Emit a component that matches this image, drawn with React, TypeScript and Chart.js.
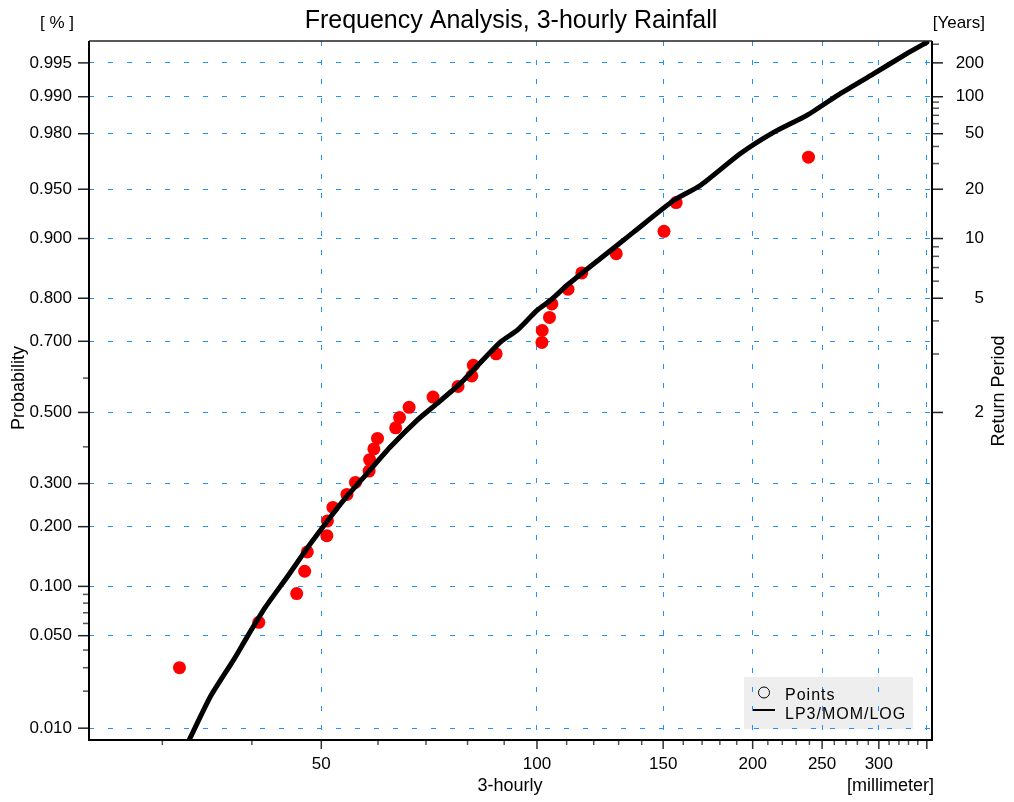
import React, { useEffect, useRef } from "react";
import { Chart, registerables } from "chart.js";

Chart.register(...registerables);

const TITLE = "Frequency Analysis, 3-hourly Rainfall";
const X_TITLE = "3-hourly";
const X_UNIT = "[millimeter]";
const Y_TITLE = "Probability";
const Y_UNIT = "[ % ]";
const Y2_TITLE = "Return Period";
const Y2_UNIT = "[Years]";
const LEGEND_POINTS = "Points";
const LEGEND_LINE = "LP3/MOM/LOG";

// observed points (rainfall in mm, plotting probability)
const POINT_MM = [31.7, 40.9, 46.2, 47.4, 47.8, 50.9, 51.0, 51.9, 54.3, 55.8, 58.3, 58.4, 59.2, 59.9, 63.5, 64.3, 66.3, 71.6, 77.6, 81.1, 81.5, 87.7, 101.6, 101.7, 104.1, 104.9, 110.5, 115.5, 129.0, 150.4, 156.4, 239.3];
const POINT_PROB = [0.030, 0.061, 0.091, 0.121, 0.152, 0.182, 0.212, 0.242, 0.273, 0.303, 0.333, 0.364, 0.394, 0.424, 0.455, 0.485, 0.515, 0.545, 0.576, 0.606, 0.636, 0.667, 0.697, 0.727, 0.758, 0.788, 0.818, 0.848, 0.879, 0.909, 0.939, 0.970];

// fitted LP3 curve
const CURVE_MM = [32.7, 35.0, 37.7, 39.4, 41.8, 44.8, 48.3, 51.5, 53.7, 57.9, 62.4, 68.0, 72.5, 78.1, 88.9, 93.8, 100.0, 104.4, 110.1, 122.5, 136.4, 155.1, 169.0, 192.1, 213.9, 238.0, 265.0, 294.8, 328.2, 350.0];
const CURVE_PROB = [0.0079, 0.0181, 0.0340, 0.0491, 0.0759, 0.1127, 0.1670, 0.2206, 0.2587, 0.3261, 0.3994, 0.4768, 0.5258, 0.5840, 0.6979, 0.7273, 0.7739, 0.7955, 0.8253, 0.8713, 0.9080, 0.9408, 0.9528, 0.9717, 0.9805, 0.9857, 0.9906, 0.9937, 0.9959, 0.9968];

// axes
const PROB_TICKS = [0.995, 0.99, 0.98, 0.95, 0.9, 0.8, 0.7, 0.5, 0.3, 0.2, 0.1, 0.05, 0.01];
const PROB_LABELS = ["0.995", "0.990", "0.980", "0.950", "0.900", "0.800", "0.700", "0.500", "0.300", "0.200", "0.100", "0.050", "0.010"];
const PROB_MINOR = [0.6, 0.4, 0.09, 0.08, 0.07, 0.06, 0.04, 0.03, 0.02];
const PERIOD_TICKS = [200, 100, 50, 20, 10, 5, 2];
const PERIOD_MINOR = [300, 90, 80, 70, 60, 40, 30, 9, 8, 7, 6, 4, 3];
const MM_TICKS = [50, 100, 150, 200, 250, 300];
const MM_GRID = [50, 100, 150, 200, 250, 300, 350];
const MM_MINOR = [30, 40, 60, 70, 80, 90, 110, 120, 130, 140, 160, 170, 180, 190, 210, 220, 230, 240, 260, 270, 280, 290, 310, 320, 330, 340];
const MM_RANGE = [23.7, 355.9];
const PROB_RANGE = [0.0079, 0.9969];

const FONT = '"Liberation Sans", Arial, Helvetica, sans-serif';
const GRID_BLUE = "#1E90FF";

function probit(p: number): number {
  const a = [-39.69683028665376, 220.9460984245205, -275.9285104469687, 138.357751867269, -30.66479806614716, 2.506628277459239];
  const b = [-54.47609879822406, 161.5858368580409, -155.6989798598866, 66.80131188771972, -13.28068155288572];
  const c = [-0.007784894002430293, -0.3223964580411365, -2.400758277161838, -2.549732539343734, 4.374664141464968, 2.938163982698783];
  const d = [0.007784695709041462, 0.3224671290700398, 2.445134137142996, 3.754408661907416];
  const pl = 0.02425;
  if (p < pl) {
    const q = Math.sqrt(-2 * Math.log(p));
    return (((((c[0] * q + c[1]) * q + c[2]) * q + c[3]) * q + c[4]) * q + c[5]) / ((((d[0] * q + d[1]) * q + d[2]) * q + d[3]) * q + 1);
  }
  if (p <= 1 - pl) {
    const q = p - 0.5;
    const r = q * q;
    return ((((((a[0] * r + a[1]) * r + a[2]) * r + a[3]) * r + a[4]) * r + a[5]) * q) / (((((b[0] * r + b[1]) * r + b[2]) * r + b[3]) * r + b[4]) * r + 1);
  }
  const q = Math.sqrt(-2 * Math.log(1 - p));
  return -(((((c[0] * q + c[1]) * q + c[2]) * q + c[3]) * q + c[4]) * q + c[5]) / ((((d[0] * q + d[1]) * q + d[2]) * q + d[3]) * q + 1);
}

const periodToZ = (t: number) => probit(1 - 1 / t);

const Y_TICK_LIST = [...PROB_TICKS, ...PROB_MINOR];
const Y2_TICK_LIST = [...PERIOD_TICKS, ...PERIOD_MINOR];
const X_TICK_LIST = [...MM_GRID, ...MM_MINOR].sort((p, q) => p - q);

const decorPlugin = {
  id: "decor",
  beforeDraw(chart: any) {
    const { ctx } = chart;
    ctx.save();
    ctx.fillStyle = "#EEEEEE";
    ctx.fillRect(744, 677, 169, 52);
    ctx.restore();
  },
  afterDraw(chart: any) {
    const { ctx, chartArea: a, scales } = chart;
    ctx.save();
    // tick marks
    const yS = scales.y;
    const y2S = scales.y2;
    const xS = scales.x;
    ctx.lineWidth = 1.5;
    const hLine = (x1: number, x2: number, y: number, col: string) => {
      ctx.strokeStyle = col;
      ctx.beginPath();
      ctx.moveTo(x1, y);
      ctx.lineTo(x2, y);
      ctx.stroke();
    };
    const vLine = (x: number, y1: number, y2: number, col: string) => {
      ctx.strokeStyle = col;
      ctx.beginPath();
      ctx.moveTo(x, y1);
      ctx.lineTo(x, y2);
      ctx.stroke();
    };
    PROB_TICKS.forEach((p) => hLine(a.left - 11, a.left, yS.getPixelForValue(probit(p)), "#222"));
    PROB_MINOR.forEach((p) => hLine(a.left - 6, a.left, yS.getPixelForValue(probit(p)), "#555"));
    PERIOD_TICKS.forEach((t) => hLine(a.right, a.right + 11, y2S.getPixelForValue(periodToZ(t)), "#222"));
    PERIOD_MINOR.forEach((t) => hLine(a.right, a.right + 7, y2S.getPixelForValue(periodToZ(t)), "#555"));
    MM_GRID.forEach((v) => vLine(xS.getPixelForValue(v), a.bottom, a.bottom + 9, "#333"));
    MM_MINOR.forEach((v) => vLine(xS.getPixelForValue(v), a.bottom, a.bottom + 5, "#555"));

    // frame
    ctx.strokeStyle = "#000";
    ctx.lineWidth = 2;
    ctx.beginPath();
    ctx.moveTo(a.left, a.top);
    ctx.lineTo(a.left, a.bottom);
    ctx.lineTo(a.right, a.bottom);
    ctx.lineTo(a.right, a.top);
    ctx.stroke();
    ctx.lineWidth = 1.5;
    ctx.strokeStyle = "#222";
    ctx.beginPath();
    ctx.moveTo(a.left, a.top);
    ctx.lineTo(a.right, a.top);
    ctx.stroke();

    // texts
    ctx.fillStyle = "#000";
    ctx.textBaseline = "alphabetic";
    ctx.font = `25px ${FONT}`;
    ctx.textAlign = "center";
    ctx.fillText(TITLE, 511, 28);
    ctx.font = `17px ${FONT}`;
    ctx.fillText(Y_UNIT, 57, 28);
    ctx.textAlign = "right";
    ctx.fillText(Y2_UNIT, 985, 28);
    ctx.font = `18px ${FONT}`;
    ctx.textAlign = "center";
    ctx.fillText(X_TITLE, 510, 791);
    ctx.textAlign = "right";
    ctx.fillText(X_UNIT, 934, 791);

    ctx.textAlign = "center";
    ctx.textBaseline = "middle";
    ctx.save();
    ctx.translate(19, 388);
    ctx.rotate(-Math.PI / 2);
    ctx.fillText(Y_TITLE, 0, 0);
    ctx.restore();
    ctx.save();
    ctx.translate(999, 391);
    ctx.rotate(-Math.PI / 2);
    ctx.fillText(Y2_TITLE, 0, 0);
    ctx.restore();

    // legend content
    ctx.strokeStyle = "#000";
    ctx.lineWidth = 1;
    ctx.beginPath();
    ctx.arc(764, 692.5, 5.5, 0, Math.PI * 2);
    ctx.stroke();
    ctx.lineWidth = 2;
    ctx.beginPath();
    ctx.moveTo(753, 710);
    ctx.lineTo(775, 710);
    ctx.stroke();
    ctx.font = `16px ${FONT}`;
    ctx.textAlign = "left";
    ctx.textBaseline = "alphabetic";
    try {
      (ctx as any).letterSpacing = "1px";
    } catch (e) {}
    ctx.fillText(LEGEND_POINTS, 785, 700);
    ctx.fillText(LEGEND_LINE, 785, 719);
    try {
      (ctx as any).letterSpacing = "0px";
    } catch (e) {}
    ctx.restore();
  },
};

export default function App() {
  const canvasRef = useRef<HTMLCanvasElement | null>(null);

  useEffect(() => {
    if (!canvasRef.current) return;
    const tickFont = { family: FONT, size: 17 };
    const zMin = probit(PROB_RANGE[0]);
    const zMax = probit(PROB_RANGE[1]);
    const chart = new Chart(canvasRef.current, {
      type: "scatter",
      data: {
        datasets: [
          {
            label: LEGEND_LINE,
            data: CURVE_MM.map((x, i) => ({ x, y: probit(CURVE_PROB[i]) })),
            showLine: true,
            borderColor: "#000",
            backgroundColor: "#000",
            borderWidth: 5,
            pointRadius: 0,
            tension: 0.2,
            borderCapStyle: "round",
            borderJoinStyle: "round",
            order: 0,
          } as any,
          {
            label: LEGEND_POINTS,
            data: POINT_MM.map((x, i) => ({ x, y: probit(POINT_PROB[i]) })),
            showLine: false,
            backgroundColor: "#FF0000",
            borderColor: "#FF0000",
            borderWidth: 0,
            pointRadius: 6.5,
            order: 1,
          } as any,
        ],
      },
      options: {
        responsive: false,
        animation: false,
        events: [],
        layout: { padding: { top: 41, right: 30, left: 0, bottom: 0 } },
        plugins: {
          legend: { display: false },
          title: { display: false },
          tooltip: { enabled: false },
        },
        scales: {
          x: {
            type: "logarithmic",
            position: "bottom",
            min: MM_RANGE[0],
            max: MM_RANGE[1],
            afterFit: (s: any) => {
              s.height = 62;
            },
            afterBuildTicks: (s: any) => {
              s.ticks = X_TICK_LIST.map((v) => ({ value: v }));
            },
            ticks: {
              autoSkip: false,
              maxRotation: 0,
              minRotation: 0,
              padding: 14,
              color: "#000",
              font: tickFont,
              callback: (v: any) => (MM_TICKS.includes(Number(v)) ? String(v) : ""),
            },
            grid: {
              drawTicks: false,
              lineWidth: 1,
              color: (c: any) => (c.tick && MM_GRID.includes(c.tick.value) ? GRID_BLUE : "rgba(0,0,0,0)"),
            },
            border: { display: false, dash: [5, 14] },
          },
          y: {
            type: "linear",
            position: "left",
            min: zMin,
            max: zMax,
            bounds: "data",
            afterFit: (s: any) => {
              s.width = 89;
            },
            afterBuildTicks: (s: any) => {
              s.ticks = Y_TICK_LIST.map((p) => ({ value: probit(p) }));
            },
            ticks: {
              autoSkip: false,
              padding: 17,
              color: "#000",
              font: tickFont,
              crossAlign: "near",
              callback: (_v: any, i: number) => (i < PROB_LABELS.length ? PROB_LABELS[i] : ""),
            },
            grid: {
              drawTicks: false,
              lineWidth: 1,
              color: (c: any) => (c.index < PROB_TICKS.length ? GRID_BLUE : "rgba(0,0,0,0)"),
            },
            border: { display: false, dash: [5, 14] },
          },
          y2: {
            type: "linear",
            position: "right",
            min: zMin,
            max: zMax,
            bounds: "data",
            afterFit: (s: any) => {
              s.width = 52;
            },
            afterBuildTicks: (s: any) => {
              s.ticks = Y2_TICK_LIST.map((t) => ({ value: periodToZ(t) }));
            },
            ticks: {
              autoSkip: false,
              padding: 12,
              color: "#000",
              font: tickFont,
              crossAlign: "far",
              callback: (_v: any, i: number) => (i < PERIOD_TICKS.length ? String(PERIOD_TICKS[i]) : ""),
            },
            grid: { drawTicks: false, drawOnChartArea: false },
            border: { display: false },
          },
        },
      } as any,
      plugins: [decorPlugin],
    });
    return () => chart.destroy();
  }, []);

  return (
    <div style={{ position: "fixed", left: 0, top: 0, width: 1014, height: 802, background: "#fff" }}>
      <canvas ref={canvasRef} width={1014} height={802} style={{ display: "block" }} />
    </div>
  );
}
